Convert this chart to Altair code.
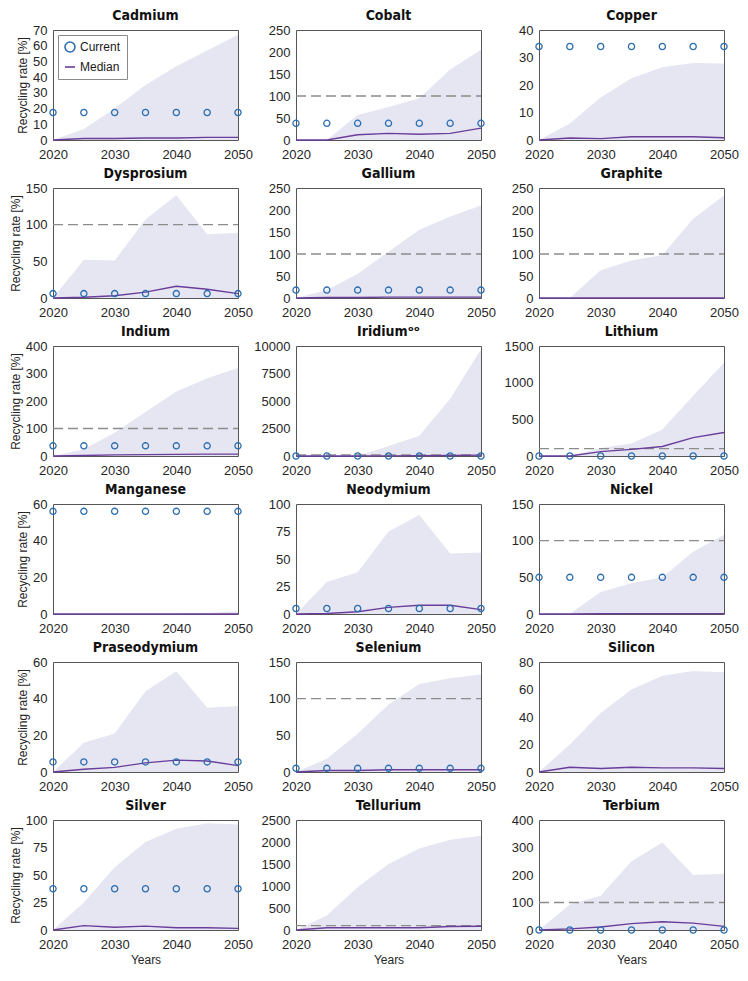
import altair as alt
import pandas as pd

YEARS = [2020, 2025, 2030, 2035, 2040, 2045, 2050]

ELEMENTS = ["Cadmium", "Cobalt", "Copper", "Dysprosium", "Gallium", "Graphite",
            "Indium", "Iridium", "Lithium", "Manganese", "Neodymium", "Nickel",
            "Praseodymium", "Selenium", "Silicon", "Silver", "Tellurium", "Terbium"]

TITLES = {"Iridium": "Iridium\u1d52\u1d52"}

# upper bound of the shaded range
UPPER = {
    "Cadmium":      [0, 7, 20, 35, 47, 57, 67],
    "Cobalt":       [0, 0, 57, 75, 95, 160, 205],
    "Copper":       [0, 6, 15.5, 22.5, 26.5, 28, 27.8],
    "Dysprosium":   [0, 52, 51, 107, 140, 87, 89],
    "Gallium":      [0, 18, 55, 105, 155, 185, 210],
    "Graphite":     [0, 0, 63, 85, 98, 180, 233],
    "Indium":       [0, 25, 85, 160, 235, 283, 320],
    "Iridium":      [0, 0, 0, 900, 1850, 5200, 9700],
    "Lithium":      [0, 0, 110, 170, 360, 820, 1270],
    "Manganese":    [0, 0, 0, 0, 0, 0.5, 1.5],
    "Neodymium":    [0, 29, 38, 75, 90, 55, 56],
    "Nickel":       [0, 0, 30, 42, 50, 85, 108],
    "Praseodymium": [0, 16, 21, 44, 55, 35, 36],
    "Selenium":     [0, 18, 52, 92, 120, 128, 133],
    "Silicon":      [0, 20, 43, 60, 70, 73.5, 72.5],
    "Silver":       [0, 25, 57, 80, 92, 97, 96],
    "Tellurium":    [0, 330, 970, 1500, 1850, 2050, 2140],
    "Terbium":      [0, 93, 125, 250, 318, 200, 205],
}

MEDIAN = {
    "Cadmium":      [0, 1, 1, 1.3, 1.3, 1.7, 1.7],
    "Cobalt":       [0, 0, 12, 15, 13, 15, 27],
    "Copper":       [0, 0.7, 0.5, 1.2, 1.2, 1.2, 0.8],
    "Dysprosium":   [0, 1, 3, 8, 16, 12, 6],
    "Gallium":      [0, 1, 1, 2, 2, 2, 2],
    "Graphite":     [0, 0, 0, 0, 0, 0, 0],
    "Indium":       [0, 2, 4, 5, 6, 7, 7],
    "Iridium":      [0, 0, 0, 10, 20, 40, 80],
    "Lithium":      [0, 0, 60, 90, 130, 250, 320],
    "Manganese":    [0, 0, 0, 0, 0, 0, 0],
    "Neodymium":    [0, 0.5, 2, 6, 8, 8, 4],
    "Nickel":       [0, 0, 0.3, 0.5, 0.5, 0.5, 0.5],
    "Praseodymium": [0, 1.5, 2.5, 5, 6.5, 6, 3.5],
    "Selenium":     [0, 2, 2, 3, 3, 3, 3],
    "Silicon":      [0, 3.5, 2.5, 3.5, 3, 3, 2.5],
    "Silver":       [0, 4, 2.5, 3.5, 2, 2, 1.5],
    "Tellurium":    [0, 50, 50, 50, 50, 80, 85],
    "Terbium":      [0, 4, 11, 23, 30, 25, 13],
}

# current recycling rate (constant), None where not shown
CURRENT = {
    "Cadmium": 17.5, "Cobalt": 38, "Copper": 34, "Dysprosium": 6, "Gallium": 18,
    "Graphite": None, "Indium": 37, "Iridium": 0, "Lithium": 0, "Manganese": 56,
    "Neodymium": 5, "Nickel": 50, "Praseodymium": 5.5, "Selenium": 5, "Silicon": None,
    "Silver": 37.5, "Tellurium": None, "Terbium": 0,
}

Y_TICKS = {
    "Cadmium": [0, 10, 20, 30, 40, 50, 60, 70],
    "Cobalt": [0, 50, 100, 150, 200, 250],
    "Copper": [0, 10, 20, 30, 40],
    "Dysprosium": [0, 50, 100, 150],
    "Gallium": [0, 50, 100, 150, 200, 250],
    "Graphite": [0, 50, 100, 150, 200, 250],
    "Indium": [0, 100, 200, 300, 400],
    "Iridium": [0, 2500, 5000, 7500, 10000],
    "Lithium": [0, 500, 1000, 1500],
    "Manganese": [0, 20, 40, 60],
    "Neodymium": [0, 25, 50, 75, 100],
    "Nickel": [0, 50, 100, 150],
    "Praseodymium": [0, 20, 40, 60],
    "Selenium": [0, 50, 100, 150],
    "Silicon": [0, 20, 40, 60, 80],
    "Silver": [0, 25, 50, 75, 100],
    "Tellurium": [0, 500, 1000, 1500, 2000, 2500],
    "Terbium": [0, 100, 200, 300, 400],
}

X_TICKS = [2020, 2030, 2040, 2050]
THRESHOLD = 100

SHADE = "#E6E6F3"
PURPLE = "#6A3D9A"
BLUE = "#2A6DB0"
DASH = "#8C8C8C"
FONT = "Liberation Sans"
TITLE_FONT = "'Liberation Sans Narrow', 'DejaVu Sans Condensed', 'Liberation Sans'"

W, H = 185, 110


def panel(i, name):
    row, col = i // 3, i % 3
    ticks = Y_TICKS[name]
    ymax = ticks[-1]
    xtitle = "Years" if row == 5 else None
    ytitle = "Recycling rate [%]" if col == 0 else None

    def xenc():
        return alt.X("year:Q",
                     scale=alt.Scale(domain=[2020, 2050], nice=False, zero=False),
                     axis=alt.Axis(values=X_TICKS, format="d", labelFlush=False,
                                   labelOverlap=False, labelPadding=8, titlePadding=3),
                     title=xtitle)

    def yenc(field):
        return alt.Y(field,
                     scale=alt.Scale(domain=[0, ymax], nice=False),
                     axis=alt.Axis(values=ticks, labelOverlap=False, format="d",
                                   labelPadding=6, titlePadding=3),
                     title=ytitle)

    df = pd.DataFrame({"year": YEARS, "upper": UPPER[name], "median": MEDIAN[name]})
    layers = [alt.Chart(df).mark_area(color=SHADE, opacity=1).encode(
        x=xenc(), y=yenc("upper:Q"))]

    if ymax > THRESHOLD:
        rdf = pd.DataFrame({"year": [2020, 2050], "v": [THRESHOLD, THRESHOLD]})
        layers.append(alt.Chart(rdf).mark_line(color=DASH, strokeDash=[10, 5],
                                               strokeWidth=1.3).encode(
            x=xenc(), y=yenc("v:Q")))

    layers.append(alt.Chart(df).mark_line(color=PURPLE, strokeWidth=1.4).encode(
        x=xenc(), y=yenc("median:Q")))

    cur = CURRENT[name]
    if cur is not None:
        cdf = pd.DataFrame({"year": YEARS, "v": [cur] * len(YEARS),
                            "series": ["Current"] * len(YEARS)})
        pts = alt.Chart(cdf).mark_point(filled=False, size=38, strokeWidth=1.3,
                                        color=BLUE, opacity=1)
        if i == 0:
            leg = alt.Legend(title=None, orient="top-left", fillColor="white",
                             strokeColor="#8a8a8a", padding=6, offset=5,
                             labelFontSize=12, labelFont=FONT, labelColor="#1a1a1a",
                             symbolSize=100, symbolStrokeWidth=1.6, rowPadding=5,
                             symbolOpacity=1)
            pts = pts.encode(
                x=xenc(), y=yenc("v:Q"),
                color=alt.Color("series:N",
                                scale=alt.Scale(domain=["Current", "Median"],
                                                range=[BLUE, PURPLE]),
                                legend=leg),
                shape=alt.Shape("series:N",
                                scale=alt.Scale(domain=["Current", "Median"],
                                                range=["circle", "stroke"]),
                                legend=leg))
        else:
            pts = pts.encode(x=xenc(), y=yenc("v:Q"))
        layers.append(pts)

    return alt.layer(*layers).properties(
        width=W, height=H,
        title=alt.TitleParams(TITLES.get(name, name), fontSize=14, fontWeight="bold",
                              font=TITLE_FONT, color="#111111", offset=1))


panels = [panel(i, n) for i, n in enumerate(ELEMENTS)]

chart = alt.concat(*panels, columns=3, spacing={"row": 48, "column": 58},
                   bounds="flush").properties(
    padding={"left": 0, "top": 0, "right": 0, "bottom": 0}
).configure_view(
    stroke="#555555", strokeWidth=1
).configure_axis(
    grid=False, domain=False, ticks=False,
    labelFont=FONT, labelFontSize=13, labelColor="#262626",
    titleFont=FONT, titleFontSize=12, titleFontWeight="normal", titleColor="#262626"
)

chart.save("out.html", embed_options={"renderer": "svg", "actions": False})
